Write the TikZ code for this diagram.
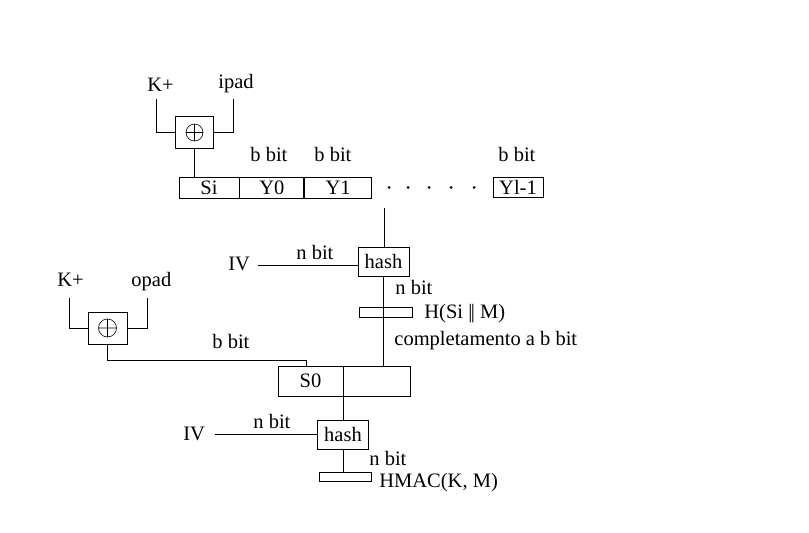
\documentclass[tikz,border=0pt]{standalone}
\usepackage{fontspec}
\setmainfont{Liberation Serif}
\begin{document}
\begin{tikzpicture}[x=1pt,y=-1pt,line width=0.8pt,
  every node/.style={font=\fontsize{20.5}{24}\selectfont},
  lbl/.style={anchor=base west,inner sep=0pt},
  cell/.style={draw,inner sep=0pt,minimum height=21pt},
  hashbox/.style={draw,inner sep=0pt,minimum width=51pt,minimum height=29pt},
  xorbox/.style={draw,inner sep=0pt,minimum width=38pt,minimum height=32pt},
  dotmark/.style={fill,circle,inner sep=0pt,minimum size=3pt}]
\useasboundingbox (0,0) rectangle (809,533);

% ---- top XOR ----
\node[xorbox] (xor1) at (194.5,132.5) {};
\draw[line width=0.6pt] (xor1.center) circle (8.5) (194.5,124) -- (194.5,141) (186,132.5) -- (203,132.5);
\node[lbl] (kp1) at (147,91) {K+};
\node[lbl] (ipad) at (218,88) {ipad};
\coordinate (k1) at (156,99);
\coordinate (ip1) at (233,99);
\draw (k1) |- (xor1.west);
\draw (ip1) |- (xor1.east);

% ---- top row ----
\node[cell,minimum width=60pt] (si) at (209,187.5) {Si};
\node[cell,minimum width=64pt,anchor=west] (y0) at (si.east) {Y0};
\node[cell,minimum width=67pt,anchor=west] (y1) at (y0.east) {Y1};
\node[cell,minimum width=50pt,minimum height=20pt] (yl) at (518,187.5) {Yl-1};
\foreach \i [count=\k] in {389,408,429,451,474} \node[dotmark] (d\k) at (\i,187.5) {};
\node[lbl] (bb0) at (250,161) {b bit};
\node[lbl] (bb1) at (314,161) {b bit};
\node[lbl] (bbl) at (498,161) {b bit};
\draw (xor1.south) -- (xor1.south |- si.north);

% ---- first hash ----
\node[hashbox] (hash1) at (383.5,261.5) {hash};
\coordinate (top) at (384,208);
\draw (top) -- (top |- hash1.north);
\node[lbl] (iv1) at (228,270) {IV};
\coordinate (iv1s) at (258,265);
\draw (iv1s) -- (iv1s -| hash1.west);
\node[lbl] (nb1) at (296,259) {n bit};
\node[draw,inner sep=0pt,minimum width=53pt,minimum height=10pt] (hr) at (385.5,312) {};
\node[lbl] (nb2) at (395,294) {n bit};
\node[lbl] (hsm) at (424,318) {H(Si |\kern-1.5pt| M)};
\node[lbl] (compl) at (394,345) {completamento a b bit};

% ---- S0 row ----
\node[draw,inner sep=0pt,minimum width=65pt,minimum height=30pt] (s0) at (310.5,381) {S0};
\node[draw,inner sep=0pt,minimum width=67pt,minimum height=30pt,anchor=west] (s0r) at (s0.east) {};
\draw (hash1.south) -- (hash1.south |- s0r.north);

% ---- left XOR ----
\node[xorbox,minimum width=39pt] (xor2) at (107.5,328) {};
\draw[line width=0.6pt] (xor2.center) circle (9) (107.5,319) -- (107.5,337) (98.5,328) -- (116.5,328);
\node[lbl] (kp2) at (57,286) {K+};
\node[lbl] (opad) at (131,286) {opad};
\coordinate (k2) at (69,298);
\coordinate (op2) at (147,298);
\draw (k2) |- (xor2.west);
\draw (op2) |- (xor2.east);
\coordinate (b2) at (306,360);
\draw (xor2.south) |- (b2) -- (b2 |- s0.north);
\node[lbl] (bb2) at (212,348) {b bit};

% ---- second hash ----
\node[hashbox] (hash2) at (343,434.5) {hash};
\draw (hash2.north) -- (hash2.north |- s0.south);
\node[lbl] (iv2) at (183,440) {IV};
\coordinate (iv2s) at (215,434.5);
\draw (iv2s) -- (iv2s -| hash2.west);
\node[lbl] (nb3) at (253,428) {n bit};
\node[draw,inner sep=0pt,minimum width=52pt,minimum height=9pt] (hm) at (345,476.5) {};
\draw (hash2.south) -- (hash2.south |- hm.north);
\node[lbl] (nb4) at (369,465) {n bit};
\node[lbl] (hmac) at (379,487) {HMAC(K, M)};
\end{tikzpicture}
\end{document}
